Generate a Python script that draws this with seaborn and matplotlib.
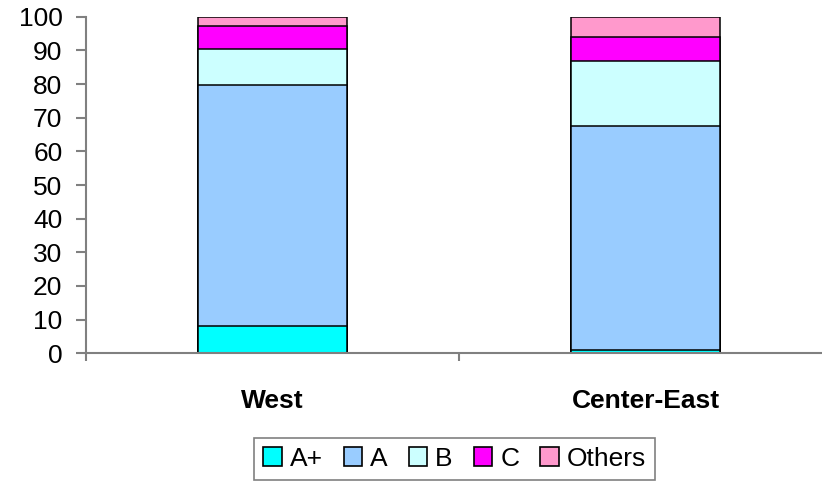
import numpy as np
import pandas as pd
import matplotlib.pyplot as plt
import seaborn as sns
from matplotlib.patches import Patch

regions = ["West", "Center-East"]
grades = ["A+", "A", "B", "C", "Others"]
colors = ["#00FFFF", "#99CCFF", "#CCFFFF", "#FF00FF", "#FF99CC"]

a_plus = [8.2, 1.0]
a = [71.4, 66.6]
b = [10.9, 19.2]
c = [6.7, 7.3]
others = [2.8, 5.9]

sns.set_style("white")
plt.rcParams['font.family'] = ['Liberation Sans', 'DejaVu Sans']
plt.rcParams['text.color'] = 'black'

df = pd.DataFrame({"region": regions, "A+": a_plus, "A": a, "B": b,
                   "C": c, "Others": others})
cum = df[grades].cumsum(axis=1)

fig = plt.figure(figsize=(8.22, 4.86), dpi=100)
ax = fig.add_axes([86/822, 132.7/486, 746/822, 336.6/486])

# stacked bars: draw the tallest cumulative bar first, then overlay
for g, col in reversed(list(zip(grades, colors))):
    sns.barplot(x=df.region, y=cum[g], color=col, width=0.4,
                edgecolor="black", linewidth=1.1, saturation=1, ax=ax)

ax.set_xlim(-0.5, 1.5)
ax.set_ylim(0, 100)
ax.set_yticks(np.arange(0, 101, 10))
ax.set_xlabel("")
ax.set_ylabel("")
for s in ["top", "right"]:
    ax.spines[s].set_visible(False)
for s in ["left", "bottom"]:
    ax.spines[s].set_color("#808080")
    ax.spines[s].set_linewidth(1.5)

ax.tick_params(axis="y", left=True, length=7, width=1.5, color="#808080",
               pad=10, labelsize=19, labelcolor="black")
ax.tick_params(axis="x", which="major", length=0, pad=26, labelsize=19,
               labelcolor="black")
for t in ax.get_xticklabels():
    t.set_fontweight("bold")
ax.set_xticks([-0.5, 0.5, 1.5], minor=True)
ax.tick_params(axis="x", which="minor", bottom=True, length=6, width=1.5,
               color="#808080")

handles = [Patch(facecolor=col, edgecolor="black", linewidth=1.2, label=g)
           for g, col in zip(grades, colors)]
leg = fig.legend(handles=handles, loc="center", bbox_to_anchor=(0.553, 0.056),
                 ncol=5, frameon=True, fancybox=False, fontsize=19,
                 handlelength=0.7, handleheight=0.7, handletextpad=0.3,
                 columnspacing=0.8, borderpad=0.35)
leg.get_frame().set_edgecolor("#606060")
leg.get_frame().set_linewidth(1.2)

fig.savefig("out.png", dpi=100)
